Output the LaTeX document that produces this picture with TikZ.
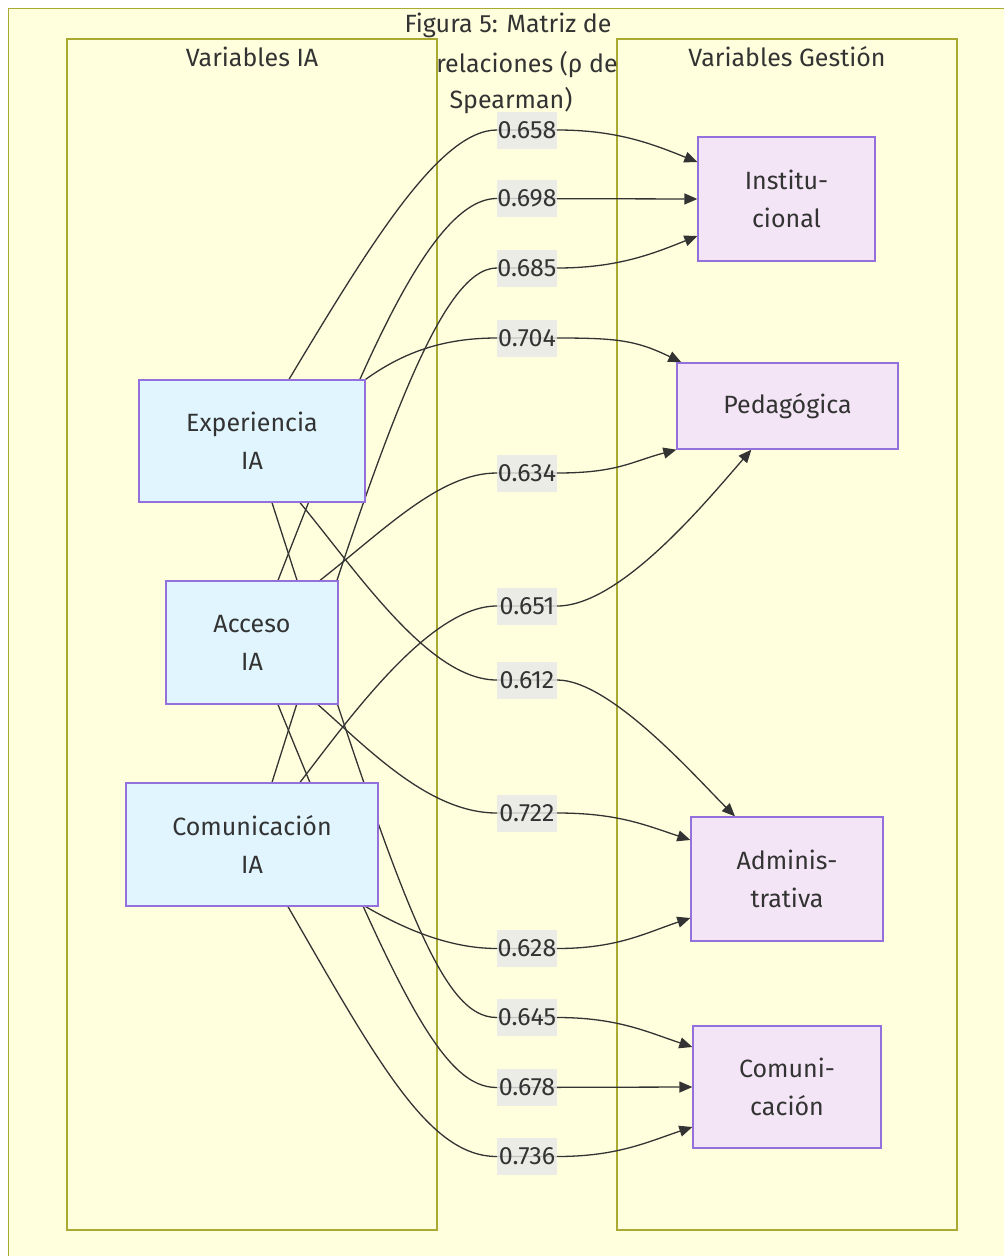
\documentclass[tikz,border=0pt]{standalone}
\usepackage{fontspec}
\setmainfont{Fira Sans}
\usetikzlibrary{arrows.meta,calc}
\definecolor{bgyellow}{HTML}{FFFFDE}
\definecolor{clusterline}{HTML}{AAAA33}
\definecolor{nodeline}{HTML}{9370DB}
\definecolor{leftfill}{HTML}{E1F5FE}
\definecolor{rightfill}{HTML}{F3E5F5}
\definecolor{edgecol}{HTML}{333333}
\definecolor{labgray}{HTML}{E8E8E8}
\definecolor{txtcol}{HTML}{333333}
\pgfdeclarelayer{frames}
\pgfdeclarelayer{edges}
\pgfsetlayers{frames,edges,main}
\begin{document}
\begin{tikzpicture}[x=1pt,y=-1pt,
  font=\fontsize{25}{38}\selectfont, text=txtcol,
  ianode/.style={draw=nodeline, line width=1.3pt, fill=leftfill, align=center, inner sep=0pt},
  gnode/.style={draw=nodeline, line width=1.3pt, fill=rightfill, align=center, inner sep=0pt},
  rho/.style={fill=labgray, fill opacity=0.8, text opacity=1, minimum width=60pt, minimum height=37pt, inner sep=0pt},
  conn/.style={draw=edgecol, line width=1.3pt},
  arr/.style={-{Triangle[length=13pt,width=11pt]}},
  cluster/.style={draw=clusterline, line width=1.2pt, fill=bgyellow},
  ttl/.style={inner sep=0pt}
]
\useasboundingbox (0,0) rectangle (1004,1256);
\begin{pgfonlayer}{frames}
  \fill[white] (0,0) rectangle (1004,1256);
  \fill[bgyellow] (8,8) rectangle (1004,1256);
  \draw[draw=clusterline, line width=1pt] (8,1262) -- (8,8) -- (1010,8);
  \draw[cluster] (67,39) rectangle (437,1230);
  \draw[cluster] (617,39) rectangle (957,1230);
\end{pgfonlayer}

% titles
\node[ttl] (t1) at (508,25) {Figura 5: Matriz de};
\node[ttl] (t2) at (527,65) {relaciones (ρ de};
\node[ttl] (t3) at (511,101) {Spearman)};
\node[ttl] (gia) at (252,57) {Variables IA};
\node[ttl] (gges) at (787,57) {Variables Gestión};

% source nodes
\node[ianode, minimum width=226pt, minimum height=122pt] (exp) at (252,441) {Experiencia\\IA};
\node[ianode, minimum width=172pt, minimum height=123pt] (acc) at (252,642.5) {Acceso\\IA};
\node[ianode, minimum width=252pt, minimum height=123pt] (com) at (252,844.5) {Comunicación\\IA};

% target nodes
\node[gnode, minimum width=177pt, minimum height=124pt] (inst) at (786.5,199) {Institu-\\cional};
\node[gnode, minimum width=221pt, minimum height=86pt] (ped) at (787.5,406) {Pedagógica};
\node[gnode, minimum width=192pt, minimum height=124pt] (adm) at (787,879) {Adminis-\\trativa};
\node[gnode, minimum width=188pt, minimum height=122pt] (comu) at (787,1087) {Comuni-\\cación};

% labels
\node[rho] (l658) at (527,130) {0.658};
\node[rho] (l698) at (527,198.5) {0.698};
\node[rho] (l685) at (527,268) {0.685};
\node[rho] (l704) at (527,338) {0.704};
\node[rho] (l634) at (527,473) {0.634};
\node[rho] (l651) at (527,606) {0.651};
\node[rho] (l612) at (527,680) {0.612};
\node[rho] (l722) at (527,813) {0.722};
\node[rho] (l628) at (527,948.5) {0.628};
\node[rho] (l645) at (527,1017.5) {0.645};
\node[rho] (l678) at (527,1087.5) {0.678};
\node[rho] (l736) at (527,1156.5) {0.736};

\begin{pgfonlayer}{edges}
  % Experiencia -> Institucional
  \draw[conn,arr] ($(exp.north)+(37,0)$) .. controls +(81,-135) and +(-57,0) .. (l658.west) -- (l658.east)
     .. controls +(60,0) and +(-45,-18) .. ($(inst.west)+(0,-37)$);
  % Acceso -> Institucional
  \draw[conn,arr] ($(acc.north)+(26,0)$) .. controls +(82,-211) and +(-67,0) .. (l698.west) -- (inst.west);
  % Comunicacion -> Institucional
  \draw[conn,arr] ($(com.north)+(20,0)$) .. controls +(108,-343) and +(-57,0) .. (l685.west) -- (l685.east)
     .. controls +(60,0) and +(-45,18) .. ($(inst.west)+(0,37)$);
  % Experiencia -> Pedagogica
  \draw[conn,arr] (exp.north east) .. controls +(35,-25) and +(-57,0) .. (l704.west) -- (l704.east)
     .. controls +(60,0) and +(-45,-22) .. ($(ped.north west)+(5,0)$);
  % Acceso -> Pedagogica
  \draw[conn,arr] ($(acc.north)+(68,0)$) .. controls +(65,-51) and +(-57,0) .. (l634.west) -- (l634.east)
     .. controls +(60,0) and +(-45,12) .. (ped.south west);
  % Comunicacion -> Pedagogica
  \draw[conn,arr] ($(com.north)+(48,0)$) .. controls +(50,-65) and +(-67,0) .. (l651.west) -- (l651.east)
     .. controls +(63,0) and +(-46,53) .. ($(ped.south west)+(75,0)$);
  % Experiencia -> Administrativa
  \draw[conn,arr] ($(exp.south)+(48,0)$) .. controls +(60,73) and +(-67,0) .. (l612.west) -- (l612.east)
     .. controls +(53,0) and +(-40,-40) .. ($(adm.north)+(-52,0)$);
  % Acceso -> Administrativa
  \draw[conn,arr] ($(acc.south)+(66,0)$) .. controls +(52,46) and +(-67,0) .. (l722.west) -- (l722.east)
     .. controls +(60,0) and +(-45,-15) .. ($(adm.west)+(0,-39)$);
  % Comunicacion -> Administrativa
  \draw[conn,arr] ($(com.south east)+(-13,0)$) .. controls +(35,20) and +(-50,0) .. (l628.west) -- (l628.east)
     .. controls +(60,0) and +(-45,15) .. ($(adm.west)+(0,39)$);
  % Experiencia -> Comunicacion
  \draw[conn,arr] ($(exp.south)+(20,0)$) .. controls +(128,398) and +(-57,0) .. (l645.west) -- (l645.east)
     .. controls +(60,0) and +(-45,-15) .. ($(comu.west)+(0,-40)$);
  % Acceso -> Comunicacion
  \draw[conn,arr] ($(acc.south)+(26,0)$) .. controls +(122,300) and +(-52,0) .. (l678.west) -- (comu.west);
  % Comunicacion -> Comunicacion
  \draw[conn,arr] ($(com.south)+(36,0)$) .. controls +(92,160) and +(-67,0) .. (l736.west) -- (l736.east)
     .. controls +(60,0) and +(-45,15) .. ($(comu.west)+(0,40)$);
\end{pgfonlayer}
\end{tikzpicture}
\end{document}
